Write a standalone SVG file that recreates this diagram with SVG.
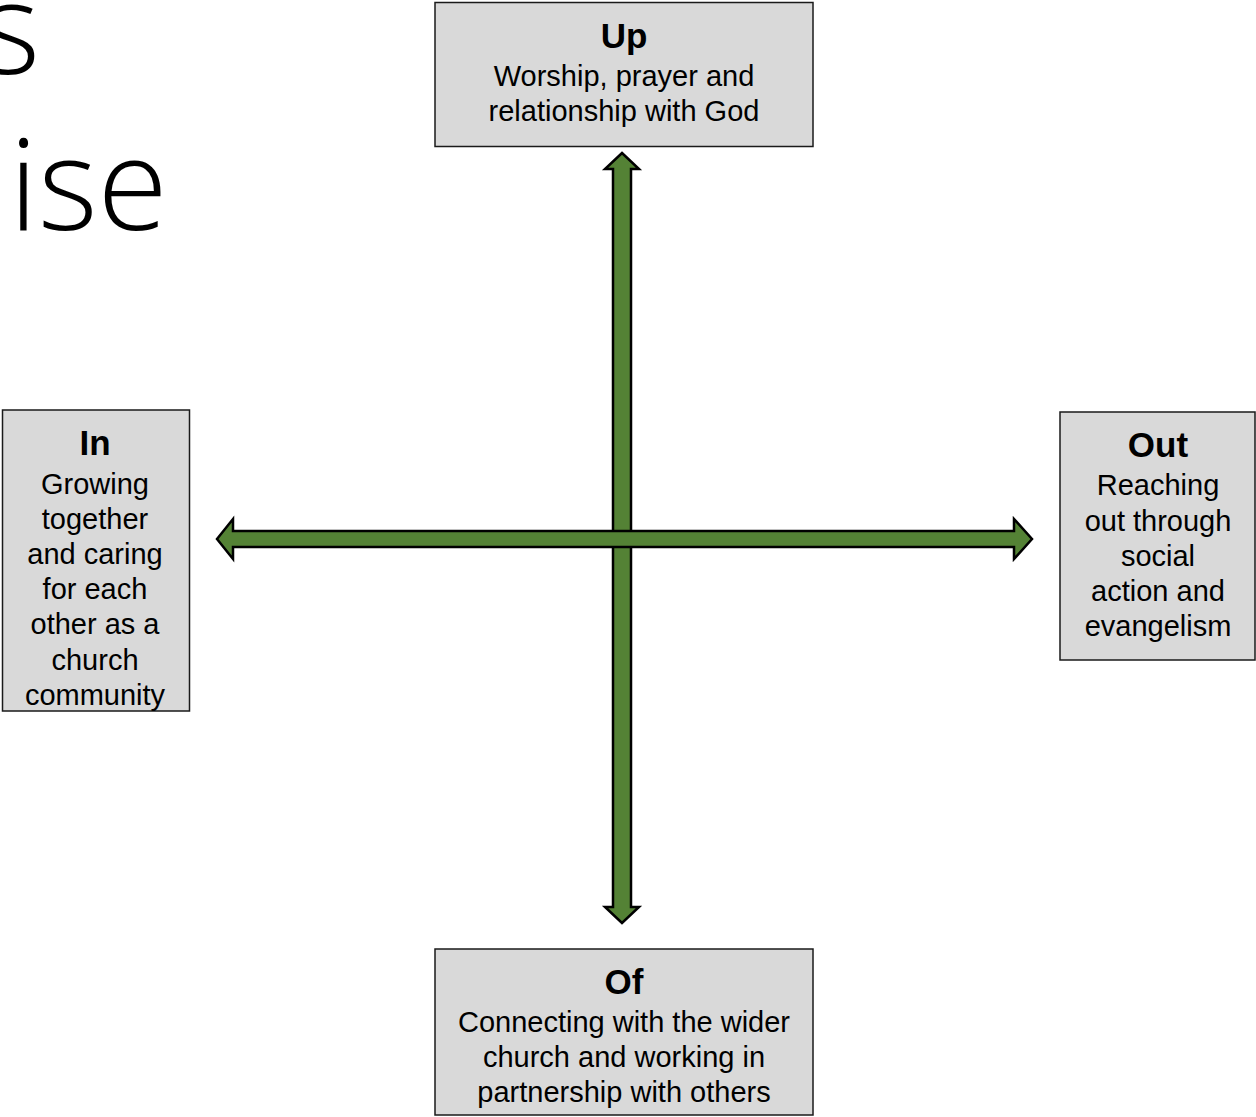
<svg xmlns="http://www.w3.org/2000/svg" width="1256" height="1117" viewBox="0 0 1256 1117">
  <style>
    .box { fill: #d9d9d9; stroke: #1a1a1a; stroke-width: 1.5; }
    .head { font-family: "Liberation Sans", Arial, sans-serif; font-weight: bold; font-size: 35px; fill: #000; text-anchor: middle; }
    .body { font-family: "Liberation Sans", Arial, sans-serif; font-size: 29px; fill: #000; text-anchor: middle; }
    .title { font-family: "Open Sans", "Noto Sans", sans-serif; font-weight: 300; font-size: 128px; fill: #000; }
    .arrow { fill: #548235; stroke: #000; stroke-width: 2.5; stroke-linejoin: miter; }
  </style>
  <rect width="1256" height="1117" fill="#fff"/>
  <g id="title">
    <text class="title" x="40" y="74" text-anchor="end">s</text>
    <text class="title" x="9" y="230">ise</text>
  </g>
  <g id="connectors">
    <polygon class="arrow" points="622,153 639,169 631,169 631,907 639,907 622,923 605,907 613,907 613,169 605,169"/>
    <polygon class="arrow" points="217,539 233,519 233,531 1014,531 1014,519 1032,539 1014,559 1014,547 233,547 233,559"/>
  </g>
  <g id="node-up">
    <rect class="box" x="435" y="2.5" width="378" height="144"/>
    <text class="head" x="624" y="48">Up</text>
    <text class="body" x="624" y="86">Worship, prayer and</text>
    <text class="body" x="624" y="121">relationship with God</text>
  </g>
  <g id="node-in">
    <rect class="box" x="2.5" y="410" width="187" height="301"/>
    <text class="head" x="95" y="455">In</text>
    <text class="body" x="95" y="494">Growing</text>
    <text class="body" x="95" y="529">together</text>
    <text class="body" x="95" y="564">and caring</text>
    <text class="body" x="95" y="599">for each</text>
    <text class="body" x="95" y="634">other as a</text>
    <text class="body" x="95" y="670">church</text>
    <text class="body" x="95" y="705">community</text>
  </g>
  <g id="node-out">
    <rect class="box" x="1060" y="412" width="195" height="248"/>
    <text class="head" x="1158" y="457">Out</text>
    <text class="body" x="1158" y="495">Reaching</text>
    <text class="body" x="1158" y="531">out through</text>
    <text class="body" x="1158" y="566">social</text>
    <text class="body" x="1158" y="601">action and</text>
    <text class="body" x="1158" y="636">evangelism</text>
  </g>
  <g id="node-of">
    <rect class="box" x="435" y="949" width="378" height="166"/>
    <text class="head" x="624" y="994">Of</text>
    <text class="body" x="624" y="1032">Connecting with the wider</text>
    <text class="body" x="624" y="1067">church and working in</text>
    <text class="body" x="624" y="1102">partnership with others</text>
  </g>
</svg>
